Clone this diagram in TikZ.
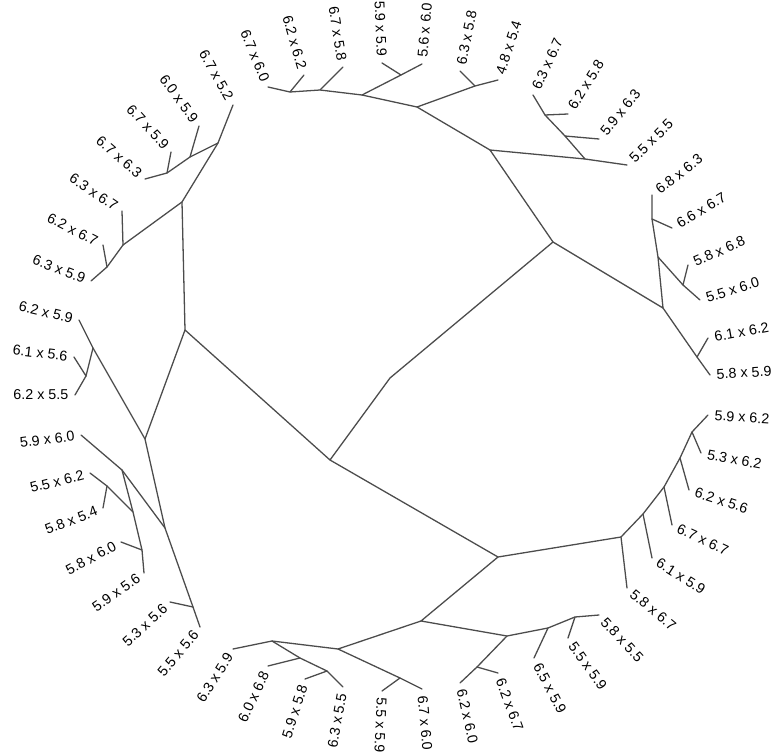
\documentclass[tikz,border=0pt]{standalone}
\usepackage{fontspec}
\setmainfont{Liberation Sans}
\usepackage{tikz}

\tikzset{
  branch/.style={line width=1.1pt,black!70,line cap=round,line join=round},
  tipR/.style={rotate=#1,anchor=west,inner xsep=5.5pt,inner ysep=0pt,
    font=\fontsize{12.2}{14}\selectfont},
  tipL/.style={rotate=#1,anchor=east,inner xsep=5.5pt,inner ysep=0pt,
    font=\fontsize{12.2}{14}\selectfont},
}

\begin{document}
\begin{tikzpicture}[x=0.03cm,y=-0.03cm]
  \useasboundingbox (0,0) rectangle (775,755);
  % leaf tips, clockwise from the top left
  \coordinate (lf1) at (268,87);   \coordinate (lf2) at (304,75);
  \coordinate (lf3) at (343,67);   \coordinate (lf4) at (382,63);
  \coordinate (lf5) at (422,64);   \coordinate (lf6) at (460,71);
  \coordinate (lf7) at (498,80);   \coordinate (lf8) at (533,95);
  \coordinate (lf9) at (568,114);  \coordinate (lf10) at (599,139);
  \coordinate (lf11) at (627,165); \coordinate (lf12) at (652,195);
  \coordinate (lf13) at (672,228); \coordinate (lf14) at (688,265);
  \coordinate (lf15) at (700,300); \coordinate (lf16) at (708,338);
  \coordinate (lf17) at (710,375); \coordinate (lf18) at (708,415);
  \coordinate (lf19) at (701,453); \coordinate (lf20) at (689,490);
  \coordinate (lf21) at (672,525); \coordinate (lf22) at (652,558);
  \coordinate (lf23) at (627,588); \coordinate (lf24) at (599,615);
  \coordinate (lf25) at (568,638); \coordinate (lf26) at (534,658);
  \coordinate (lf27) at (498,673); \coordinate (lf28) at (460,683);
  \coordinate (lf29) at (422,689); \coordinate (lf30) at (382,691);
  \coordinate (lf31) at (343,687); \coordinate (lf32) at (305,679);
  \coordinate (lf33) at (268,666); \coordinate (lf34) at (233,649);
  \coordinate (lf35) at (200,627); \coordinate (lf36) at (170,602);
  \coordinate (lf37) at (144,573); \coordinate (lf38) at (121,542);
  \coordinate (lf39) at (103,508); \coordinate (lf40) at (90,473);
  \coordinate (lf41) at (81,435);  \coordinate (lf42) at (75,395);
  \coordinate (lf43) at (74,357);  \coordinate (lf44) at (79,320);
  \coordinate (lf45) at (91,281);  \coordinate (lf46) at (103,245);
  \coordinate (lf47) at (122,211); \coordinate (lf48) at (145,179);
  \coordinate (lf49) at (171,152); \coordinate (lf50) at (199,126);
  \coordinate (lf51) at (233,105);
  % inner nodes
  \coordinate (t1) at (290,92);  \coordinate (t2) at (320,90);
  \coordinate (t3) at (362,95);  \coordinate (t4) at (401,75);
  \coordinate (t5) at (417,107); \coordinate (t6) at (475,86);
  \coordinate (t7) at (490,150); \coordinate (t8) at (553,242);
  \coordinate (c1) at (585,159); \coordinate (c2) at (565,136);
  \coordinate (c3) at (545,115);
  \coordinate (d1) at (663,308); \coordinate (d2) at (658,257);
  \coordinate (d3) at (652,219); \coordinate (d4) at (683,285);
  \coordinate (d5) at (697,357);
  \coordinate (rt) at (390,378); \coordinate (hub) at (330,460);
  \coordinate (wq) at (498,557);
  \coordinate (x0) at (621,537); \coordinate (x1) at (643,514);
  \coordinate (x2) at (664,487); \coordinate (x3) at (680,458);
  \coordinate (x4) at (692,432);
  \coordinate (u0) at (421,621); \coordinate (y0) at (507,636);
  \coordinate (y2) at (477,667); \coordinate (z1) at (548,628);
  \coordinate (z2) at (575,617);
  \coordinate (s1) at (272,641); \coordinate (s2) at (338,649);
  \coordinate (s3) at (300,658); \coordinate (s4) at (327,671);
  \coordinate (s5) at (400,678);
  \coordinate (g0) at (185,330); \coordinate (h0) at (182,202);
  \coordinate (i0) at (218,143); \coordinate (j1) at (190,157);
  \coordinate (j2) at (167,173); \coordinate (k1) at (123,245);
  \coordinate (k2) at (107,267); \coordinate (m0) at (145,439);
  \coordinate (a1) at (93,348);  \coordinate (a2) at (86,376);
  \coordinate (n0) at (165,528); \coordinate (e0) at (193,607);
  \coordinate (p1) at (122,470); \coordinate (p3) at (133,512);
  \coordinate (p4) at (142,550); \coordinate (q1) at (107,486);
  % top cluster
  \draw[branch] (lf1) -- (t1) -- (t2) -- (t3) -- (t5) -- (t7) -- (c1) -- (lf11);
  \draw[branch] (lf2) -- (t1);
  \draw[branch] (lf3) -- (t2);
  \draw[branch] (t3) -- (t4) -- (lf5);
  \draw[branch] (lf4) -- (t4);
  \draw[branch] (t5) -- (t6) -- (lf7);
  \draw[branch] (lf6) -- (t6);
  \draw[branch] (c1) -- (c2) -- (c3) -- (lf8);
  \draw[branch] (lf9) -- (c3);
  \draw[branch] (lf10) -- (c2);
  % right cluster
  \draw[branch] (t7) -- (t8) -- (d1) -- (d5) -- (lf17);
  \draw[branch] (lf16) -- (d5);
  \draw[branch] (d1) -- (d2) -- (d3) -- (lf12);
  \draw[branch] (lf13) -- (d3);
  \draw[branch] (d2) -- (d4) -- (lf15);
  \draw[branch] (lf14) -- (d4);
  % centre and lower right
  \draw[branch] (t8) -- (rt) -- (hub) -- (wq) -- (x0) -- (x1) -- (x2) -- (x3) -- (x4) -- (lf18);
  \draw[branch] (x0) -- (lf23);
  \draw[branch] (x1) -- (lf22);
  \draw[branch] (x2) -- (lf21);
  \draw[branch] (x3) -- (lf20);
  \draw[branch] (x4) -- (lf19);
  % bottom cluster
  \draw[branch] (wq) -- (u0) -- (y0) -- (z1) -- (z2) -- (lf24);
  \draw[branch] (z2) -- (lf25);
  \draw[branch] (z1) -- (lf26);
  \draw[branch] (y0) -- (y2) -- (lf28);
  \draw[branch] (y2) -- (lf27);
  \draw[branch] (u0) -- (s2) -- (s1) -- (lf34);
  \draw[branch] (s1) -- (s3) -- (s4) -- (lf31);
  \draw[branch] (s3) -- (lf33);
  \draw[branch] (s4) -- (lf32);
  \draw[branch] (s2) -- (s5) -- (lf29);
  \draw[branch] (s5) -- (lf30);
  % left cluster
  \draw[branch] (hub) -- (g0) -- (h0) -- (i0) -- (lf51);
  \draw[branch] (i0) -- (j1) -- (j2) -- (lf48);
  \draw[branch] (j1) -- (lf50);
  \draw[branch] (j2) -- (lf49);
  \draw[branch] (h0) -- (k1) -- (k2) -- (lf45);
  \draw[branch] (k1) -- (lf47);
  \draw[branch] (k2) -- (lf46);
  \draw[branch] (g0) -- (m0) -- (n0) -- (e0) -- (lf35);
  \draw[branch] (e0) -- (lf36);
  \draw[branch] (m0) -- (a1) -- (lf44);
  \draw[branch] (a1) -- (a2) -- (lf43);
  \draw[branch] (a2) -- (lf42);
  \draw[branch] (n0) -- (p1) -- (lf41);
  \draw[branch] (p1) -- (p3) -- (p4) -- (lf37);
  \draw[branch] (p4) -- (lf38);
  \draw[branch] (p3) -- (q1) -- (lf40);
  \draw[branch] (q1) -- (lf39);
  % labels
  \node[tipL=-67.6] (lab1) at (lf1) {6.7 x 6.0};
  \node[tipL=-74.1] (lab2) at (lf2) {6.2 x 6.2};
  \node[tipL=-81.0] (lab3) at (lf3) {6.7 x 5.8};
  \node[tipL=-87.8] (lab4) at (lf4) {5.9 x 5.9};
  \node[tipR=85.3] (lab5) at (lf5) {5.6 x 6.0};
  \node[tipR=78.7] (lab6) at (lf6) {6.3 x 5.8};
  \node[tipR=71.9] (lab7) at (lf7) {4.8 x 5.4};
  \node[tipR=65.3] (lab8) at (lf8) {6.3 x 6.7};
  \node[tipR=58.4] (lab9) at (lf9) {6.2 x 5.8};
  \node[tipR=51.4] (lab10) at (lf10) {5.9 x 6.3};
  \node[tipR=44.7] (lab11) at (lf11) {5.5 x 5.5};
  \node[tipR=37.9] (lab12) at (lf12) {6.8 x 6.3};
  \node[tipR=31.1] (lab13) at (lf13) {6.6 x 6.7};
  \node[tipR=23.9] (lab14) at (lf14) {5.8 x 6.8};
  \node[tipR=17.3] (lab15) at (lf15) {5.5 x 6.0};
  \node[tipR=10.3] (lab16) at (lf16) {6.1 x 6.2};
  \node[tipR=3.6] (lab17) at (lf17) {5.8 x 5.9};
  \node[tipR=-3.7] (lab18) at (lf18) {5.9 x 6.2};
  \node[tipR=-10.7] (lab19) at (lf19) {5.3 x 6.2};
  \node[tipR=-17.9] (lab20) at (lf20) {6.2 x 5.6};
  \node[tipR=-25.1] (lab21) at (lf21) {6.7 x 6.7};
  \node[tipR=-32.4] (lab22) at (lf22) {6.1 x 5.9};
  \node[tipR=-39.8] (lab23) at (lf23) {5.8 x 6.7};
  \node[tipR=-47.2] (lab24) at (lf24) {5.8 x 5.5};
  \node[tipR=-54.5] (lab25) at (lf25) {5.5 x 5.9};
  \node[tipR=-62.1] (lab26) at (lf26) {6.5 x 5.9};
  \node[tipR=-69.7] (lab27) at (lf27) {6.2 x 6.7};
  \node[tipR=-77.3] (lab28) at (lf28) {6.2 x 6.0};
  \node[tipR=-84.8] (lab29) at (lf29) {6.7 x 6.0};
  \node[tipR=-92.5] (lab30) at (lf30) {5.5 x 5.9};
  \node[tipL=79.9] (lab31) at (lf31) {6.3 x 5.5};
  \node[tipL=72.4] (lab32) at (lf32) {5.9 x 5.8};
  \node[tipL=64.9] (lab33) at (lf33) {6.0 x 6.8};
  \node[tipL=57.5] (lab34) at (lf34) {6.3 x 5.9};
  \node[tipL=50.0] (lab35) at (lf35) {5.5 x 5.6};
  \node[tipL=42.6] (lab36) at (lf36) {5.3 x 5.6};
  \node[tipL=35.3] (lab37) at (lf37) {5.9 x 5.6};
  \node[tipL=28.2] (lab38) at (lf38) {5.8 x 6.0};
  \node[tipL=21.2] (lab39) at (lf39) {5.8 x 5.4};
  \node[tipL=14.3] (lab40) at (lf40) {5.5 x 6.2};
  \node[tipL=7.3] (lab41) at (lf41) {5.9 x 6.0};
  \node[tipL=0] (lab42) at (lf42) {6.2 x 5.5};
  \node[tipL=-6.8] (lab43) at (lf43) {6.1 x 5.6};
  \node[tipL=-13.4] (lab44) at (lf44) {6.2 x 5.9};
  \node[tipL=-20.6] (lab45) at (lf45) {6.3 x 5.9};
  \node[tipL=-27.2] (lab46) at (lf46) {6.2 x 6.7};
  \node[tipL=-34.0] (lab47) at (lf47) {6.3 x 6.7};
  \node[tipL=-40.8] (lab48) at (lf48) {6.7 x 6.3};
  \node[tipL=-47.3] (lab49) at (lf49) {6.7 x 5.9};
  \node[tipL=-53.9] (lab50) at (lf50) {6.0 x 5.9};
  \node[tipL=-60.8] (lab51) at (lf51) {6.7 x 5.2};
\end{tikzpicture}
\end{document}
